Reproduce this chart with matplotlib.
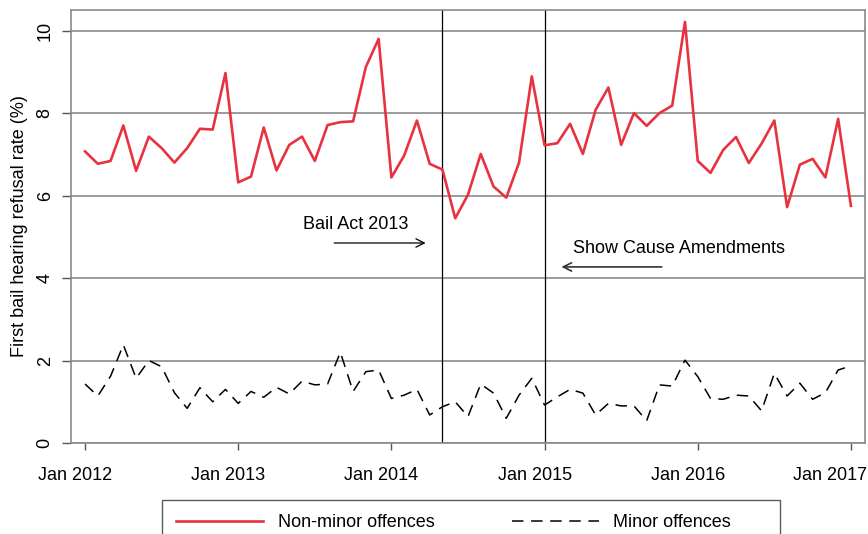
import numpy as np
import matplotlib
matplotlib.use('Agg')
import matplotlib.pyplot as plt
from matplotlib.transforms import ScaledTranslation

# Monthly refusal rates, Jan 2012 - Jan 2017
non_minor = [7.07, 6.77, 6.84, 7.70, 6.60, 7.43, 7.15, 6.80, 7.15, 7.62, 7.60, 8.97,
             6.32, 6.46, 7.65, 6.61, 7.23, 7.43, 6.84, 7.71, 7.78, 7.80, 9.12, 9.80,
             6.44, 6.97, 7.82, 6.77, 6.63, 5.45, 6.02, 7.01, 6.22, 5.95, 6.80, 8.89,
             7.22, 7.27, 7.74, 7.01, 8.08, 8.62, 7.23, 8.00, 7.69, 8.00, 8.18, 10.21,
             6.84, 6.55, 7.11, 7.42, 6.79, 7.26, 7.82, 5.72, 6.75, 6.89, 6.44, 7.86,
             5.75]
minor = [1.43, 1.14, 1.62, 2.38, 1.57, 2.00, 1.85, 1.22, 0.84, 1.34, 1.00, 1.30,
         0.96, 1.25, 1.11, 1.35, 1.19, 1.50, 1.41, 1.43, 2.20, 1.25, 1.73, 1.77,
         1.08, 1.16, 1.30, 0.68, 0.88, 1.00, 0.64, 1.43, 1.21, 0.60, 1.16, 1.57,
         0.92, 1.12, 1.30, 1.21, 0.68, 0.96, 0.90, 0.90, 0.54, 1.41, 1.38, 2.01,
         1.61, 1.08, 1.06, 1.16, 1.14, 0.78, 1.69, 1.14, 1.45, 1.06, 1.22, 1.77,
         1.87]
months = np.arange(len(non_minor))
year_labels = ['Jan 2012', 'Jan 2013', 'Jan 2014', 'Jan 2015', 'Jan 2016', 'Jan 2017']
year_ticks = [0, 12, 24, 36, 48, 60]
bail_act_month = 28       # May 2014
show_cause_month = 36     # Jan 2015

plt.rcParams['font.family'] = ['Liberation Sans', 'DejaVu Sans']

fig = plt.figure(figsize=(8.68, 5.34), dpi=100)
ax = fig.add_axes([0.0818, 0.1704, 0.9147, 0.8109])

grey = '#8a8a8a'
for y in range(0, 11, 2):
    ax.axhline(y, color=grey, lw=1.2, zorder=1)

ax.axvline(bail_act_month, color='black', lw=0.9, zorder=2)
ax.axvline(show_cause_month, color='black', lw=0.9, zorder=2)

ax.plot(months, non_minor, color='#e8323f', lw=1.9, label='Non-minor offences', zorder=3)
dashed, = ax.plot(months, minor, color='black', lw=1.1, label='Minor offences' + ' ' * 7, zorder=3)
dashed.set_dashes((7.5, 5))

ax.annotate('', xy=(26.9, 4.85), xytext=(19.3, 4.85),
            arrowprops=dict(arrowstyle='->', color='black', lw=0.9, mutation_scale=15))
ax.text(21.2, 5.29, 'Bail Act 2013', fontsize=13, ha='center', va='center')
ax.annotate('', xy=(37.1, 4.27), xytext=(45.4, 4.27),
            arrowprops=dict(arrowstyle='->', color='#333333', lw=1.2, mutation_scale=15))
ax.text(46.5, 4.71, 'Show Cause Amendments', fontsize=13, ha='center', va='center')

ax.set_xlim(-1.1, 61.1)
ax.set_ylim(0, 10.5)
ax.set_xticks(year_ticks)
ax.set_xticklabels(year_labels, fontsize=13)
ax.set_yticks(range(0, 11, 2))
ax.set_yticklabels([str(v) for v in range(0, 11, 2)], fontsize=13, rotation=90, va='center')
ax.tick_params(axis='x', length=5, width=1, color='#555555', pad=12)
ax.tick_params(axis='y', length=6.5, width=1, color='#555555', pad=6)
ax.set_ylabel('First bail hearing refusal rate (%)', fontsize=13, labelpad=6)

# x labels sit a little left of their ticks, the last one more so
labels = ax.get_xticklabels()
for i, lab in enumerate(labels):
    dx = -0.21 if i == len(labels) - 1 else -0.10
    lab.set_transform(lab.get_transform() + ScaledTranslation(dx, 0, fig.dpi_scale_trans))

for s in ax.spines.values():
    s.set_color(grey)
    s.set_linewidth(1.2)

leg = fig.legend(loc='upper left', bbox_to_anchor=(162 / 868, 1 - 500 / 534), ncol=2,
                 fontsize=13, frameon=True, fancybox=False, handlelength=4.8,
                 handletextpad=0.8, columnspacing=4.3, borderpad=0.8, borderaxespad=0)
leg.get_frame().set_edgecolor('#333333')
leg.get_frame().set_linewidth(1.0)

fig.savefig('out.png', dpi=100)
